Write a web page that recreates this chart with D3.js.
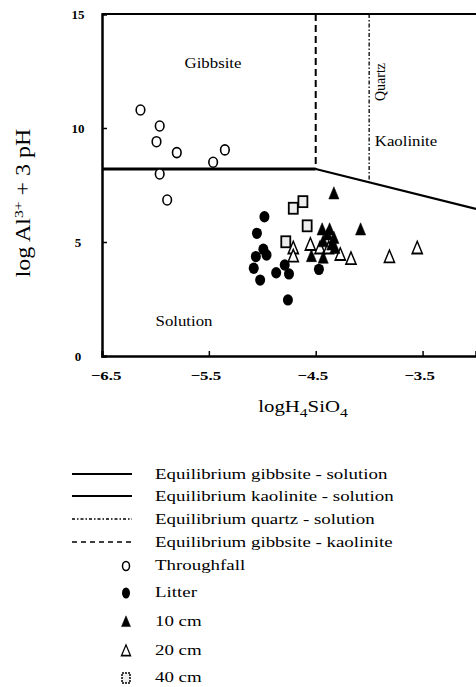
<!DOCTYPE html>
<html>
<head>
<meta charset="utf-8">
<script src="https://cdn.jsdelivr.net/npm/d3@7"></script>
<style>
  body { margin: 0; background: #fff; }
  svg text { font-family: "Liberation Serif", "DejaVu Serif", serif; fill: #000; }
</style>
</head>
<body>
<svg id="chart" width="476" height="687"></svg>
<script>
// data: [logH4SiO4, log Al3+ + 3pH]
var throughfall = [
  [-6.14, 10.79], [-5.96, 10.09], [-5.99, 9.40], [-5.80, 8.92],
  [-5.46, 8.50], [-5.35, 9.04], [-5.96, 7.98], [-5.89, 6.84]
];
var litter = [
  [-4.98, 6.11], [-5.05, 5.38], [-4.99, 4.68], [-5.06, 4.36],
  [-4.96, 4.43], [-5.08, 3.85], [-5.02, 3.33], [-4.87, 3.65],
  [-4.79, 3.99], [-4.75, 3.60], [-4.47, 3.80], [-4.76, 2.46]
];
var cm10 = [
  [-4.33, 7.11], [-4.08, 5.53], [-4.44, 5.53], [-4.37, 5.53],
  [-4.39, 5.31], [-4.33, 5.16], [-4.43, 5.01], [-4.35, 4.87],
  [-4.54, 4.36], [-4.43, 4.29], [-4.32, 4.72]
];
var cm20 = [
  [-4.71, 4.72], [-4.71, 4.36], [-4.55, 4.87], [-4.46, 4.72],
  [-4.38, 4.72], [-4.27, 4.43], [-4.17, 4.25], [-3.81, 4.33], [-3.55, 4.72]
];
var cm40 = [
  [-4.71, 6.48], [-4.62, 6.77], [-4.58, 5.71], [-4.78, 5.01]
];

// equilibrium lines
var gibbsiteSolution = [[-6.5, 8.2], [-4.5, 8.2]];
var kaoliniteSolution = [[-4.5, 8.2], [-3.0, 6.45]];
var quartzSolution = [[-4.0, 15], [-4.0, 7.6]];
var gibbsiteKaolinite = [[-4.5, 15], [-4.5, 8.2]];

var xTicks = [-6.5, -5.5, -4.5, -3.5];
var yTicks = [0, 5, 10, 15];

var legendLines = [
  "Equilibrium gibbsite - solution",
  "Equilibrium kaolinite - solution",
  "Equilibrium quartz - solution",
  "Equilibrium gibbsite - kaolinite"
];
var legendMarks = ["Throughfall", "Litter", "10 cm", "20 cm", "40 cm"];

var svg = d3.select("#chart");

var x = d3.scaleLinear().domain([-6.5, -3]).range([102, 476]);
var y = d3.scaleLinear().domain([0, 15]).range([356, 14]);

var line = d3.line().x(d => x(d[0])).y(d => y(d[1]));

// text widened like the scanned original
function wideText(px, py, str, size, stretch, anchor) {
  return svg.append("g").attr("transform", "translate(" + px + "," + py + ") scale(" + stretch + ",1)")
    .append("text").attr("text-anchor", anchor || "start").attr("font-size", size).text(str);
}

// frame
svg.append("line").attr("x1", x(-6.5)).attr("x2", x(-3)).attr("y1", y(15)).attr("y2", y(15))
  .attr("stroke", "#000").attr("stroke-width", 2);

// axes with inward ticks
var xAxis = svg.append("g").attr("transform", "translate(0," + y(0) + ")")
  .call(d3.axisBottom(x).tickValues(xTicks).tickSize(-5).tickFormat(""));
var yAxis = svg.append("g").attr("transform", "translate(" + x(-6.5) + ",0)")
  .call(d3.axisLeft(y).tickValues(yTicks).tickSize(-5).tickFormat(""));

[xAxis, yAxis].forEach(function (g) {
  g.select(".domain").attr("stroke-width", 2.5);
  g.selectAll(".tick line").attr("stroke-width", 1.5);
});
xAxis.selectAll(".tick line").filter(d => d === -6.5).remove();
yAxis.selectAll(".tick line").filter(d => d === 0 || d === 15).remove();

xTicks.forEach(function (v, i) {
  wideText(x(v) + (i === 0 ? 4 : -3), 380, d3.format(".1f")(v), 13, 1.3, "middle")
    .attr("font-weight", "bold");
});
yTicks.forEach(function (v) {
  svg.append("text").attr("x", 78).attr("y", y(v) + 5).attr("text-anchor", "middle")
    .attr("font-size", 13).attr("font-weight", "bold").text(d3.format("d")(v));
});

// equilibrium lines
svg.append("path").datum(gibbsiteSolution).attr("d", line)
  .attr("fill", "none").attr("stroke", "#000").attr("stroke-width", 3);
svg.append("path").datum(kaoliniteSolution).attr("d", line)
  .attr("fill", "none").attr("stroke", "#000").attr("stroke-width", 2.2);
svg.append("path").datum(quartzSolution).attr("d", line)
  .attr("fill", "none").attr("stroke", "#000").attr("stroke-width", 1.3)
  .attr("stroke-dasharray", "4,2,1.5,2");
svg.append("path").datum(gibbsiteKaolinite).attr("d", line)
  .attr("fill", "none").attr("stroke", "#000").attr("stroke-width", 2)
  .attr("stroke-dasharray", "7,4");

// region labels
wideText(213, 68, "Gibbsite", 14, 1.2, "middle");
wideText(406, 146, "Kaolinite", 14, 1.2, "middle");
wideText(184, 326, "Solution", 14, 1.2, "middle");
svg.append("text").attr("transform", "translate(385,82) rotate(-90)").attr("text-anchor", "middle")
  .attr("font-size", 14).text("Quartz");

// axis titles
svg.append("g").attr("transform", "translate(30,203) rotate(-90) scale(1.2,1)")
  .append("text").attr("text-anchor", "middle").attr("font-size", 20)
  .call(t => {
    t.append("tspan").text("log Al");
    t.append("tspan").attr("dy", -7).attr("font-size", 13).text("3+");
    t.append("tspan").attr("dy", 7).text(" + 3 pH");
  });
svg.append("g").attr("transform", "translate(303,412) scale(1.3,1)")
  .append("text").attr("text-anchor", "middle").attr("font-size", 16)
  .call(t => {
    t.append("tspan").text("logH");
    t.append("tspan").attr("dy", 5).attr("font-size", 12).text("4");
    t.append("tspan").attr("dy", -5).text("SiO");
    t.append("tspan").attr("dy", 5).attr("font-size", 12).text("4");
  });

// marker drawers
var tri = d3.symbol().type(d3.symbolTriangle).size(55);
function drawCircles(data, filled) {
  svg.append("g").selectAll("ellipse").data(data).join("ellipse")
    .attr("cx", d => x(d[0])).attr("cy", d => y(d[1]))
    .attr("rx", filled ? 5 : 4.3).attr("ry", filled ? 5.7 : 5)
    .attr("fill", filled ? "#000" : "#fff").attr("stroke", "#000")
    .attr("stroke-width", filled ? 0 : 1.6);
}
function drawTriangles(data, filled) {
  svg.append("g").selectAll("path").data(data).join("path")
    .attr("d", tri).attr("transform", d => "translate(" + x(d[0]) + "," + (y(d[1]) + 1) + ") scale(0.9,1.25)")
    .attr("fill", filled ? "#000" : "#fff").attr("stroke", "#000")
    .attr("stroke-width", filled ? 0.5 : 1.5);
}
function drawSquares(data) {
  svg.append("g").selectAll("rect").data(data).join("rect")
    .attr("x", d => x(d[0]) - 4.5).attr("y", d => y(d[1]) - 5.5)
    .attr("width", 9).attr("height", 11)
    .attr("fill", "#eee").attr("stroke", "#000").attr("stroke-width", 1.8);
}

drawCircles(throughfall, false);
drawSquares(cm40);
drawCircles(litter, true);
drawTriangles(cm20, false);
drawTriangles(cm10, true);

// legend
var lineRows = [474, 496, 519, 542];
var lineStyles = [
  { w: 2, dash: null },
  { w: 2, dash: null },
  { w: 1.3, dash: "3,2,1.5,2" },
  { w: 1.6, dash: "5,4" }
];
legendLines.forEach(function (label, i) {
  var ly = lineRows[i];
  svg.append("line").attr("x1", 72).attr("x2", 132).attr("y1", ly).attr("y2", ly)
    .attr("stroke", "#000").attr("stroke-width", lineStyles[i].w)
    .attr("stroke-dasharray", lineStyles[i].dash);
  wideText(155, ly + 5, label, 15, 1.26);
});

var markRows = [566, 593, 622, 651, 678];
legendMarks.forEach(function (label, i) {
  var my = markRows[i], mx = 126;
  if (i === 0) {
    svg.append("ellipse").attr("cx", mx).attr("cy", my).attr("rx", 3.5).attr("ry", 4.5)
      .attr("fill", "#fff").attr("stroke", "#000").attr("stroke-width", 1.5);
  } else if (i === 1) {
    svg.append("ellipse").attr("cx", mx).attr("cy", my).attr("rx", 4).attr("ry", 5.5).attr("fill", "#000");
  } else if (i === 2 || i === 3) {
    svg.append("path").attr("d", tri)
      .attr("transform", "translate(" + mx + "," + (my + 1) + ") scale(0.8,1.1)")
      .attr("fill", i === 2 ? "#000" : "#fff").attr("stroke", "#000")
      .attr("stroke-width", i === 2 ? 0.5 : 1.5);
  } else {
    svg.append("rect").attr("x", mx - 4).attr("y", my - 5).attr("width", 8).attr("height", 10)
      .attr("fill", "#eee").attr("stroke", "#000").attr("stroke-width", 1.5)
      .attr("stroke-dasharray", "2,1");
  }
  wideText(155, my + 4, label, 15, 1.26);
});
</script>
</body>
</html>
